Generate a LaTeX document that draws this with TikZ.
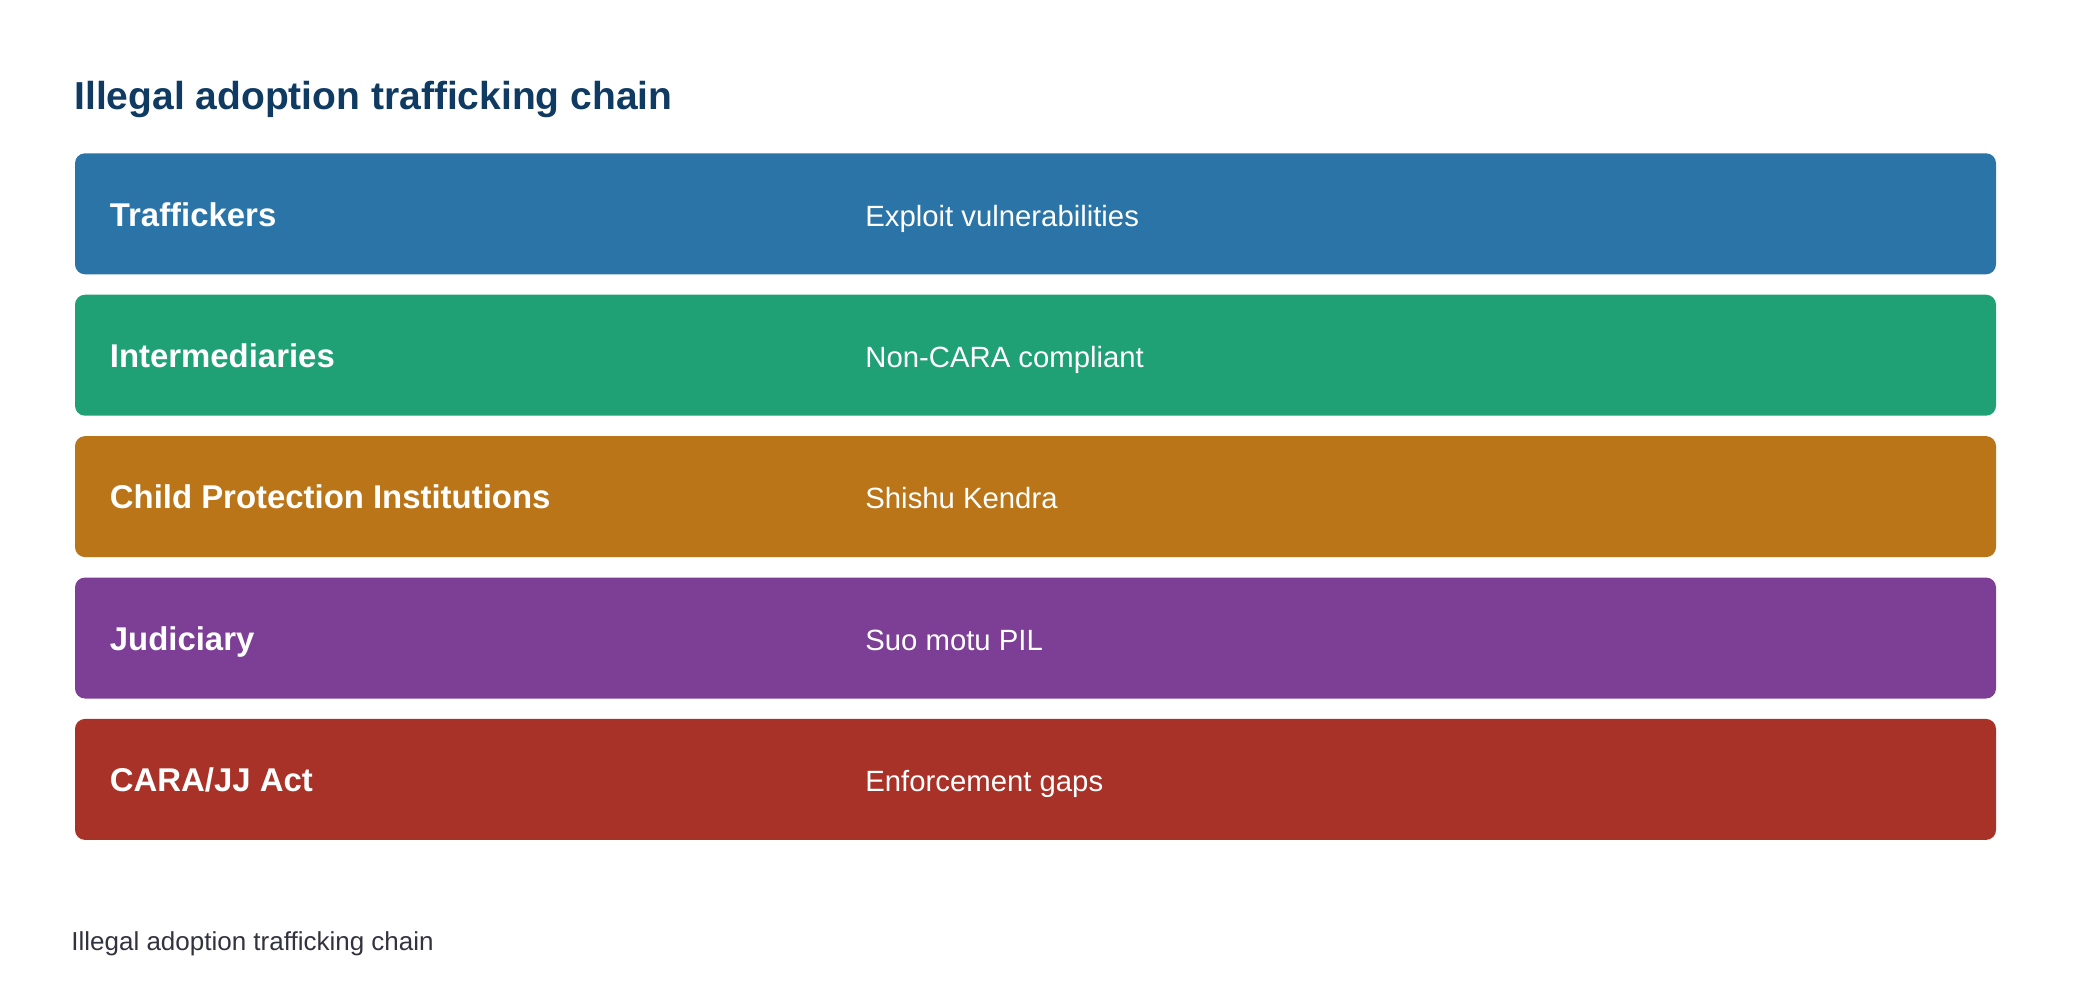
\documentclass[tikz,border=0pt]{standalone}
\usepackage{fontspec}
\setmainfont{Liberation Sans}
\usepackage{tikz}
\usetikzlibrary{positioning,calc}
\definecolor{titrebleu}{HTML}{0F3B62}
\definecolor{bleu}{HTML}{2A74A7}
\definecolor{vert}{HTML}{1FA075}
\definecolor{ocre}{HTML}{BA7518}
\definecolor{violet}{HTML}{7D3E96}
\definecolor{rouge}{HTML}{A83228}
\definecolor{gris}{HTML}{333340}

\begin{document}
\begin{tikzpicture}[x=0.5pt,y=0.5pt]
\tikzstyle{bande}=[rectangle,rounded corners=5pt,minimum width=960.5pt,minimum height=60.5pt,inner sep=0pt]
\tikzstyle{etiquette}=[anchor=base west,inner sep=0pt,text=white,font=\fontsize{16.45}{19}\selectfont\bfseries]
\tikzstyle{valeur}=[anchor=base west,inner sep=0pt,text=white,font=\fontsize{14.65}{17}\selectfont]
\tikzstyle{titre}=[anchor=base west,inner sep=0pt,text=titrebleu,font=\fontsize{19.5}{23}\selectfont\bfseries]
\tikzstyle{legende}=[anchor=base west,inner sep=0pt,text=gris,font=\fontsize{13.0}{16}\selectfont]
\def\DistanceInterBandes{141.4}
\def\NiveauA{(-213.8)}
\def\NiveauB{(-213.8-1*\DistanceInterBandes)}
\def\NiveauC{(-213.8-2*\DistanceInterBandes)}
\def\NiveauD{(-213.8-3*\DistanceInterBandes)}
\def\NiveauE{(-213.8-4*\DistanceInterBandes)}
\def\Base{12.2}
\useasboundingbox (0,0) rectangle (2080,-1006);
\node[titre] (Titre) at (74,-109.3) {Illegal adoption trafficking chain};
\node[bande,fill=bleu] (BandeA) at (1035.5,{\NiveauA}) {};
\node[bande,fill=vert] (BandeB) at (1035.5,{\NiveauB}) {};
\node[bande,fill=ocre] (BandeC) at (1035.5,{\NiveauC}) {};
\node[bande,fill=violet] (BandeD) at (1035.5,{\NiveauD}) {};
\node[bande,fill=rouge] (BandeE) at (1035.5,{\NiveauE}) {};
\node[etiquette] (EtiquetteA) at (109.5,{\NiveauA-\Base}) {Traffickers};
\node[etiquette] (EtiquetteB) at (109.5,{\NiveauB-\Base}) {Intermediaries};
\node[etiquette] (EtiquetteC) at (109.5,{\NiveauC-\Base}) {Child Protection Institutions};
\node[etiquette] (EtiquetteD) at (109.5,{\NiveauD-\Base}) {Judiciary};
\node[etiquette] (EtiquetteE) at (109.5,{\NiveauE-\Base}) {CARA/JJ Act};
\node[valeur] (ValeurA) at (865,{\NiveauA-\Base}) {Exploit vulnerabilities};
\node[valeur] (ValeurB) at (865,{\NiveauB-\Base}) {Non-CARA compliant};
\node[valeur] (ValeurC) at (865,{\NiveauC-\Base}) {Shishu Kendra};
\node[valeur] (ValeurD) at (865,{\NiveauD-\Base}) {Suo motu PIL};
\node[valeur] (ValeurE) at (865,{\NiveauE-\Base}) {Enforcement gaps};
\node[legende] (Legende) at (71,-950.7) {Illegal adoption trafficking chain};
\end{tikzpicture}
\end{document}
